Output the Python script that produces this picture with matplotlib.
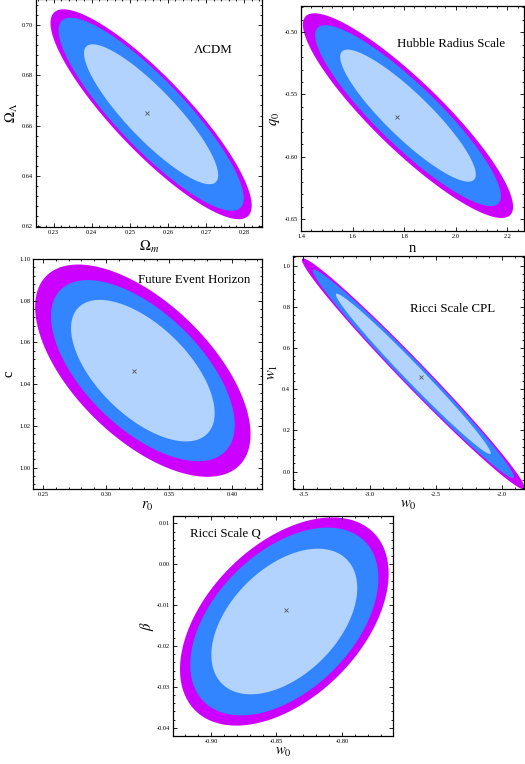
import numpy as np
import matplotlib
matplotlib.use("Agg")
import matplotlib.pyplot as plt
from matplotlib.ticker import MultipleLocator, AutoMinorLocator, FormatStrFormatter

plt.rcParams['font.family'] = ['Liberation Serif', 'DejaVu Serif']
plt.rcParams['mathtext.fontset'] = 'stix'

# confidence regions per panel: centre, inner half-extents, correlation, level scale factors
titles = ["ΛCDM", "Hubble Radius Scale", "Future Event Horizon", "Ricci Scale CPL", "Ricci Scale Q"]
xlabels = [r"$\Omega_m$", "n", r"$r_0$", r"$w_0$", r"$w_0$"]
ylabels = [r"$\Omega_\Lambda$", r"$q_0$", "c", r"$w_1$", r"$\beta$"]
centers = [(0.2556, 0.6645), (1.815, -0.567), (0.329, 1.0465), (-2.67, 0.475), (-0.844, -0.014)]
sigmas = [(0.0176, 0.0278), (0.263, 0.053), (0.057, 0.0339), (0.584, 0.389), (0.0557, 0.0178)]
rhos = [-0.87, -0.89, -0.60, -0.988, 0.46]
levels = [[1.0, 1.38, 1.50], [1.0, 1.37, 1.55], [1.0, 1.28, 1.50], [1.0, 1.30, 1.44], [1.0, 1.29, 1.43]]
bestfit = [(0.2545, 0.665), (1.774, -0.568), (0.3222, 1.0464), (-2.611, 0.46), (-0.8425, -0.0113)]
xlims = [(0.2254, 0.2847), (1.4, 2.265), (0.2418, 0.4236), (-3.578, -1.835), (-0.929, -0.761)]
ylims = [(0.6197, 0.7103), (-0.6596, -0.479), (0.9898, 1.1), (-0.084, 1.047), (-0.042, 0.0118)]
xmajor = [0.01, 0.2, 0.05, 0.5, 0.05]
ymajor = [0.02, 0.05, 0.02, 0.2, 0.01]
xfmt = ["%.2f", "%.1f", "%.2f", "%.1f", "%.2f"]
yfmt = ["%.2f", "%.2f", "%.2f", "%.1f", "%.2f"]

colors = ['#CC00FF', '#3385FF', '#B3D3FF']  # outer, middle, inner

# axes boxes in pixels: left, top, right, bottom
W, H = 525, 764
boxes = [(36, -1, 262, 227), (301, 6, 524, 231), (33, 259, 262, 489),
         (293, 256, 524, 489), (173, 516, 393, 736)]
title_pos = [(0.783, 0.775), (0.671, 0.832), (0.703, 0.909), (0.691, 0.773), (0.236, 0.918)]
xlab_off = [20, 17, 17, 16, 16]
ylab_off = [24, 26, 24, 20, 26]

fig = plt.figure(figsize=(W/100, H/100), dpi=100)
t = np.linspace(0, 2*np.pi, 400)

for i in range(5):
    l, tp, r, b = boxes[i]
    ax = fig.add_axes([l/W, 1-b/H, (r-l)/W, (b-tp)/H])
    cx, cy = centers[i]
    sx, sy = sigmas[i]
    rho = rhos[i]
    for k, col in zip(levels[i][::-1], colors):
        x = cx + k*sx*np.cos(t)
        y = cy + k*sy*(rho*np.cos(t) + np.sqrt(1-rho**2)*np.sin(t))
        ax.fill(x, y, color=col, lw=0)
    ax.plot(*bestfit[i], marker='x', color='#555555', ms=3, mew=0.6)
    ax.set_xlim(*xlims[i]); ax.set_ylim(*ylims[i])
    ax.xaxis.set_major_locator(MultipleLocator(xmajor[i]))
    ax.yaxis.set_major_locator(MultipleLocator(ymajor[i]))
    ax.xaxis.set_minor_locator(AutoMinorLocator(5))
    ax.yaxis.set_minor_locator(AutoMinorLocator(5))
    ax.xaxis.set_major_formatter(FormatStrFormatter(xfmt[i]))
    ax.yaxis.set_major_formatter(FormatStrFormatter(yfmt[i]))
    ax.tick_params(which='both', direction='in', top=True, right=True, labelsize=4.6, pad=2, width=0.6)
    ax.tick_params(which='major', length=3)
    ax.tick_params(which='minor', length=1.5)
    for s in ax.spines.values():
        s.set_linewidth(0.9)
    ax.text(*title_pos[i], titles[i], transform=ax.transAxes, ha='center', va='center', fontsize=9.3)
    ax.set_xlabel(xlabels[i], fontsize=10.5)
    ax.set_ylabel(ylabels[i], fontsize=10.5)
    ax.xaxis.set_label_coords(0.5, -xlab_off[i]/(b-tp))
    ax.yaxis.set_label_coords(-ylab_off[i]/(r-l), 0.5)
    ax.xaxis.label.set_va('center')
    ax.yaxis.label.set_va('center')

fig.savefig("out.png", dpi=100)
